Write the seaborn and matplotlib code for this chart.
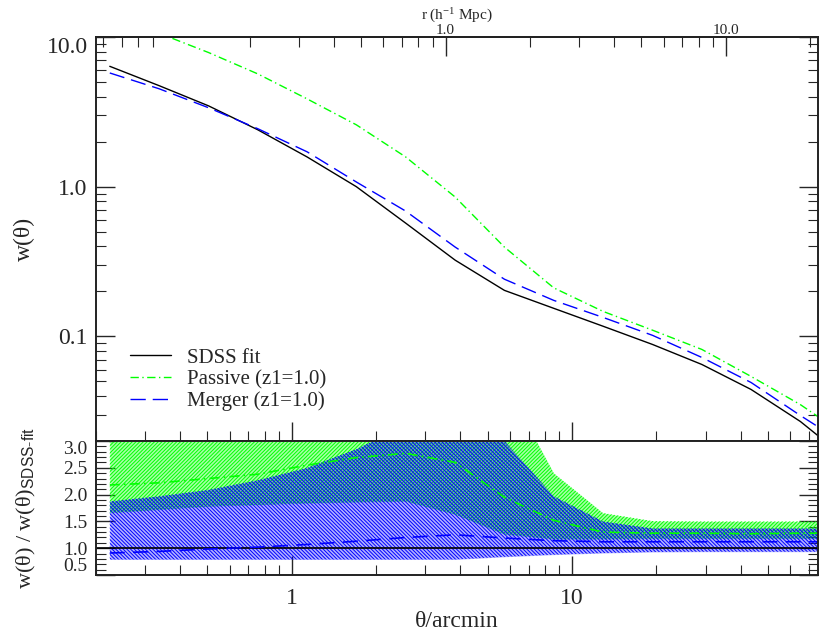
import numpy as np
import matplotlib
matplotlib.use('Agg')
import matplotlib.pyplot as plt
import matplotlib.ticker as mticker
import seaborn as sns

# angular separation nodes (arcmin)
theta = [0.224, 0.336, 0.504, 0.756, 1.134, 1.70, 2.55, 3.83, 5.74, 8.61,
         12.9, 19.4, 29.1, 43.6, 65.4, 75.6]

# w(theta) curves, upper panel
sdss_fit = [6.37, 4.73, 3.47, 2.40, 1.58, 1.00, 0.571, 0.323, 0.203, 0.154,
            0.117, 0.0883, 0.0649, 0.0442, 0.0270, 0.0217]
passive = [13.9, 10.6, 7.88, 5.67, 3.86, 2.59, 1.58, 0.853, 0.395, 0.211,
           0.147, 0.110, 0.0818, 0.054, 0.035, 0.0291]
merger = [5.75, 4.51, 3.37, 2.44, 1.71, 1.075, 0.687, 0.395, 0.241, 0.174,
          0.134, 0.1016, 0.0723, 0.0492, 0.0296, 0.0249]

# ratio to SDSS fit, lower panel
passive_ratio = [2.18, 2.22, 2.30, 2.38, 2.55, 2.69, 2.77, 2.60, 1.95, 1.52,
                 1.30, 1.28, 1.28, 1.27, 1.28, 1.28]
merger_ratio = [0.91, 0.94, 0.985, 1.02, 1.07, 1.13, 1.20, 1.25, 1.19, 1.14,
                1.12, 1.12, 1.12, 1.12, 1.12, 1.12]
passive_lo = [1.66, 1.72, 1.78, 1.81, 1.84, 1.86, 1.875, 1.63, 1.26, 1.17,
              1.17, 1.18, 1.18, 1.18, 1.18, 1.18]
passive_hi = [3.5, 3.6, 3.7, 3.9, 4.1, 4.3, 4.6, 4.8, 4.1, 2.40,
              1.657, 1.507, 1.50, 1.50, 1.50, 1.50]
merger_lo = [0.79, 0.79, 0.79, 0.79, 0.79, 0.79, 0.79, 0.79, 0.84, 0.88,
             0.91, 0.93, 0.935, 0.935, 0.935, 0.935]
merger_hi = [1.875, 1.97, 2.09, 2.27, 2.50, 2.85, 3.3, 3.5, 3.0, 1.97,
             1.50, 1.37, 1.37, 1.37, 1.37, 1.37]

R_PER_ARCMIN = 0.2825  # h^-1 Mpc per arcmin at the survey redshift

sns.set_style('ticks')
plt.rcParams['font.family'] = ['Liberation Serif', 'DejaVu Serif']
plt.rcParams['mathtext.fontset'] = 'custom'
plt.rcParams['mathtext.rm'] = 'Liberation Serif'
plt.rcParams['mathtext.sf'] = 'Liberation Sans'
plt.rcParams['mathtext.it'] = 'Liberation Serif:italic'
plt.rcParams['hatch.linewidth'] = 0.7

GREEN = '#00ff00'
BLUE = '#0000ff'

fig = plt.figure(figsize=(8.2, 6.37), dpi=100)
ax1 = fig.add_axes([96 / 820, 1 - 441 / 637, 722 / 820, 404 / 637])
ax2 = fig.add_axes([96 / 820, 1 - 575 / 637, 722 / 820, 134 / 637])

# ---- upper panel
sns.lineplot(x=theta, y=sdss_fit, ax=ax1, color='black', lw=1.0,
             label='SDSS fit')
sns.lineplot(x=theta, y=passive, ax=ax1, color=GREEN, lw=1.0,
             linestyle=(0, (6, 2.5, 1, 2.5)), label='Passive (z1=1.0)')
sns.lineplot(x=theta, y=merger, ax=ax1, color=BLUE, lw=1.0,
             linestyle=(0, (11, 5)), label='Merger (z1=1.0)')

ax1.set_xscale('log')
ax1.set_yscale('log')
ax1.set_xlim(0.2, 75.6)
ax1.set_ylim(0.02, 10.0)
ax1.yaxis.set_major_locator(mticker.FixedLocator([0.1, 1.0, 10.0]))
ax1.yaxis.set_major_formatter(mticker.FixedFormatter(['0.1', '1.0', '10.0']))
ax1.yaxis.set_minor_locator(mticker.LogLocator(subs=np.arange(2, 10)))
ax1.yaxis.set_minor_formatter(mticker.NullFormatter())
ax1.set_ylabel('w(θ)', fontsize=17)
ax1.yaxis.set_label_coords(-0.085, 0.5)
ax1.tick_params(axis='both', which='both', direction='in', top=False,
                right=True, bottom=True, labelbottom=False)
ax1.tick_params(axis='y', which='major', length=14, width=1.0, labelsize=17,
                pad=6)
ax1.tick_params(axis='y', which='minor', length=7, width=0.8)
ax1.tick_params(axis='x', which='major', length=14, width=1.0)
ax1.tick_params(axis='x', which='minor', length=7, width=0.8)
ax1.get_yticklabels()[-1].set_va('top')

leg = ax1.legend(loc='lower left', bbox_to_anchor=(0.035, 0.053),
                 frameon=False, fontsize=15, handlelength=2.0,
                 handletextpad=0.75, labelspacing=0.1, borderaxespad=0)

sec = ax1.secondary_xaxis('top', functions=(lambda t: t * R_PER_ARCMIN,
                                            lambda r: r / R_PER_ARCMIN))
sec.xaxis.set_major_locator(mticker.FixedLocator([1.0, 10.0]))
sec.xaxis.set_major_formatter(mticker.FixedFormatter(['1.0', '10.0']))
sec.xaxis.set_minor_locator(mticker.LogLocator(subs=np.arange(2, 10)))
sec.xaxis.set_minor_formatter(mticker.NullFormatter())
sec.tick_params(axis='x', which='major', direction='in', length=14,
                width=1.0, labelsize=11, pad=0)
sec.tick_params(axis='x', which='minor', direction='in', length=7, width=0.8)
sec.set_xlabel('r (h$^{-1}$ Mpc)', fontsize=11, labelpad=3)

# ---- lower panel
ax2.fill_between(theta, passive_lo, passive_hi, facecolor=GREEN, alpha=0.35,
                 linewidth=0)
ax2.fill_between(theta, passive_lo, passive_hi, facecolor='none',
                 edgecolor=GREEN, hatch='/' * 9, linewidth=0)
ax2.fill_between(theta, merger_lo, merger_hi, facecolor=BLUE, alpha=0.3,
                 linewidth=0)
ax2.fill_between(theta, merger_lo, merger_hi, facecolor='none',
                 edgecolor=BLUE, hatch='\\' * 9, linewidth=0)
ax2.axhline(1.0, color='black', lw=1.2)
sns.lineplot(x=theta, y=passive_ratio, ax=ax2, color=GREEN, lw=1.2,
             linestyle=(0, (6, 2.5, 1, 2.5)))
sns.lineplot(x=theta, y=merger_ratio, ax=ax2, color=BLUE, lw=1.2,
             linestyle=(0, (9, 5)))

ax2.set_xscale('log')
ax2.set_xlim(0.2, 75.6)
ax2.set_ylim(0.5, 3.0)
ax2.yaxis.set_major_locator(mticker.FixedLocator([0.5, 1.0, 1.5, 2.0, 2.5, 3.0]))
ax2.yaxis.set_major_formatter(mticker.FormatStrFormatter('%.1f'))
ax2.yaxis.set_minor_locator(mticker.MultipleLocator(0.1))
ax2.xaxis.set_major_locator(mticker.FixedLocator([1.0, 10.0]))
ax2.xaxis.set_major_formatter(mticker.FixedFormatter(['1', '10']))
ax2.xaxis.set_minor_locator(mticker.LogLocator(subs=np.arange(2, 10)))
ax2.xaxis.set_minor_formatter(mticker.NullFormatter())
ax2.tick_params(axis='both', which='both', direction='in', top=False,
                right=True)
ax2.tick_params(axis='y', which='major', length=14, width=1.0, labelsize=14,
                pad=6)
ax2.tick_params(axis='y', which='minor', length=7, width=0.8)
ax2.tick_params(axis='x', which='major', length=14, width=1.0, labelsize=17,
                pad=9)
ax2.tick_params(axis='x', which='minor', length=7, width=0.8)
labels = ax2.get_yticklabels()
labels[0].set_va('bottom')
labels[-1].set_va('top')
ax2.set_xlabel('θ/arcmin', fontsize=17, labelpad=2)
ax2.set_ylabel(r'w(θ) / w(θ)$_{\mathsf{SDSS\text{-}fit}}$', fontsize=16)
ax2.yaxis.set_label_coords(-0.08, 0.5)

for ax in (ax1, ax2):
    for sp in ax.spines.values():
        sp.set_linewidth(1.4)
        sp.set_color('#222222')
sec.spines['top'].set_linewidth(1.4)

fig.savefig('out.png', dpi=100)
